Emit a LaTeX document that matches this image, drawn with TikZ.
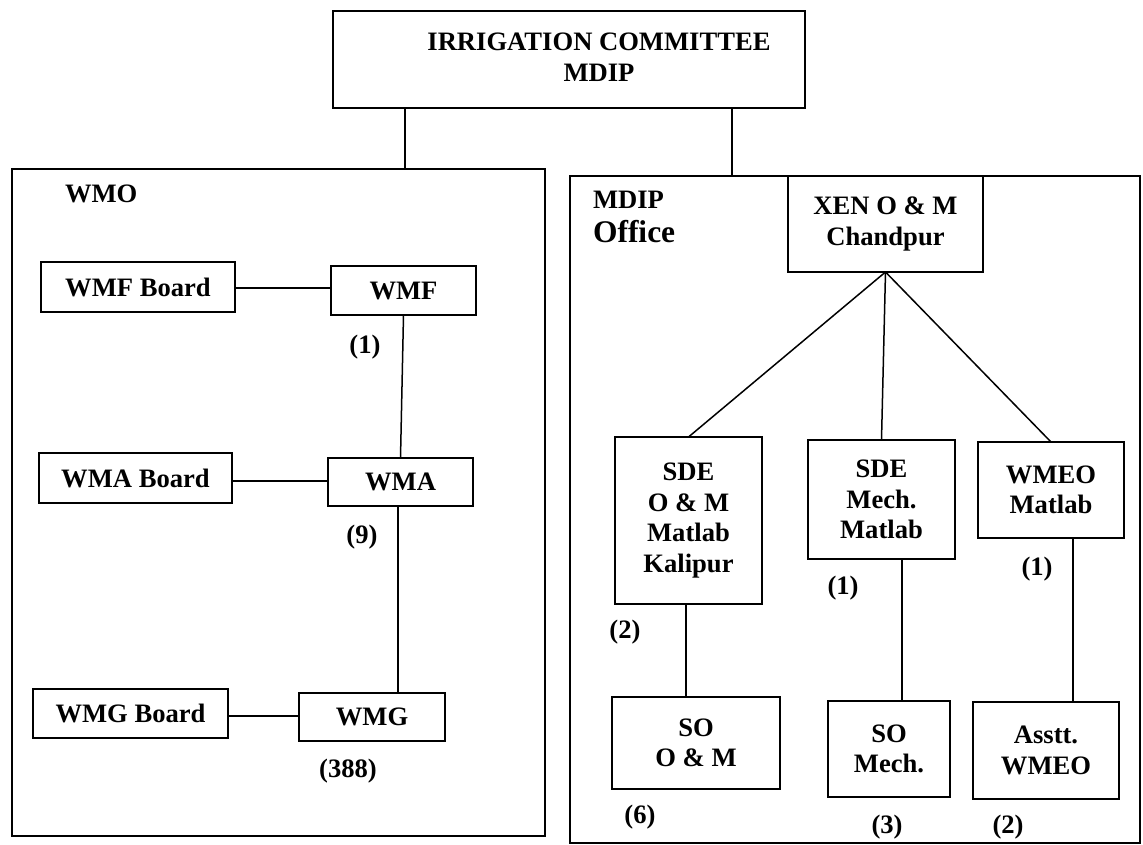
\documentclass[tikz,border=0pt]{standalone}
\usepackage{fontspec}
\setmainfont{Liberation Serif}
\begin{document}
\begin{tikzpicture}[x=1pt,y=-1pt,
  every node/.style={inner sep=0pt,outer sep=0pt,font=\fontsize{26.6}{30.5}\selectfont\bfseries,align=center},
  box/.style={draw,line width=1.7pt},
  frame/.style={draw,line width=1.7pt},
  conn/.style={line width=1.5pt},
  num/.style={anchor=base}]
\useasboundingbox[fill=white] (0,0) rectangle (1143,845);
% top
\node[box,minimum width=472,minimum height=97] (ic) at (569,59.5) {};
\node (ict) at (599,57) {IRRIGATION COMMITTEE\\MDIP};
% frames
\node[frame,minimum width=533,minimum height=667] (wmo) at (278.5,502.5) {};
\node[frame,minimum width=570,minimum height=667] (mdip) at (855,509.5) {};
\coordinate (cl) at (405,0);
\coordinate (cr) at (732,0);
\draw[conn] (ic.south -| cl) -- (wmo.north -| cl);
\draw[conn] (ic.south -| cr) -- (mdip.north -| cr);
% WMO side
\node[anchor=base west] (wmot) at (65,203) {WMO};
\node[box,minimum width=194,minimum height=50] (wmfb) at (138,287) {WMF Board};
\node[box,minimum width=145,minimum height=49] (wmf) at (403.5,290.5) {WMF};
\node[box,minimum width=193,minimum height=50] (wmab) at (135.5,478) {WMA Board};
\node[box,minimum width=145,minimum height=48] (wma) at (400.5,482) {WMA};
\node[box,minimum width=195,minimum height=49] (wmgb) at (130.5,713.5) {WMG Board};
\node[box,minimum width=146,minimum height=48] (wmg) at (372,717) {WMG};
\coordinate (y1) at (0,288);
\coordinate (y2) at (0,481);
\coordinate (y3) at (0,716);
\draw[conn] (wmfb.east |- y1) -- (wmf.west |- y1);
\draw[conn] (wmab.east |- y2) -- (wma.west |- y2);
\draw[conn] (wmgb.east |- y3) -- (wmg.west |- y3);
\draw[conn] (wmf.south) -- (wma.north);
\coordinate (c2) at (398,0);
\draw[conn] (wma.south -| c2) -- (wmg.north -| c2);
\node[num] (n1) at (365,353) {(1)};
\node[num] (n9) at (362,543) {(9)};
\node[num] (n388) at (348,777) {(388)};
% MDIP side
\node[anchor=base west] (mdipt) at (593,208) {MDIP};
\node[anchor=base west,font=\fontsize{31.5}{35}\selectfont\bfseries] (offt) at (593,243) {Office};
\node[box,minimum width=195,minimum height=96] (xen) at (885.5,224) {XEN O \& M\\Chandpur};
\node[box,minimum width=147,minimum height=167] (sde1) at (688.5,520.5) {SDE\\O \& M\\Matlab\\Kalipur};
\node[box,minimum width=147,minimum height=119] (sde2) at (881.5,499.5) {SDE\\Mech.\\Matlab};
\node[box,minimum width=146,minimum height=96] (wmeo) at (1051,490) {WMEO\\Matlab};
\node[box,minimum width=168,minimum height=92] (so1) at (696,743) {SO\\O \& M};
\node[box,minimum width=122,minimum height=96] (so2) at (889,749) {SO\\Mech.};
\node[box,minimum width=146,minimum height=97] (asst) at (1046,750.5) {Asstt.\\WMEO};
\draw[conn] (xen.south) -- (sde1.north);
\draw[conn] (xen.south) -- (sde2.north);
\draw[conn] (xen.south) -- (wmeo.north);
\coordinate (c3) at (686,0);
\coordinate (c4) at (902,0);
\coordinate (c5) at (1073,0);
\draw[conn] (sde1.south -| c3) -- (so1.north -| c3);
\draw[conn] (sde2.south -| c4) -- (so2.north -| c4);
\draw[conn] (wmeo.south -| c5) -- (asst.north -| c5);
\node[num] (n2a) at (625,638) {(2)};
\node[num] (n1b) at (843,594) {(1)};
\node[num] (n1c) at (1037,575) {(1)};
\node[num] (n6) at (640,823) {(6)};
\node[num] (n3) at (887,833) {(3)};
\node[num] (n2b) at (1008,833) {(2)};
\end{tikzpicture}
\end{document}
